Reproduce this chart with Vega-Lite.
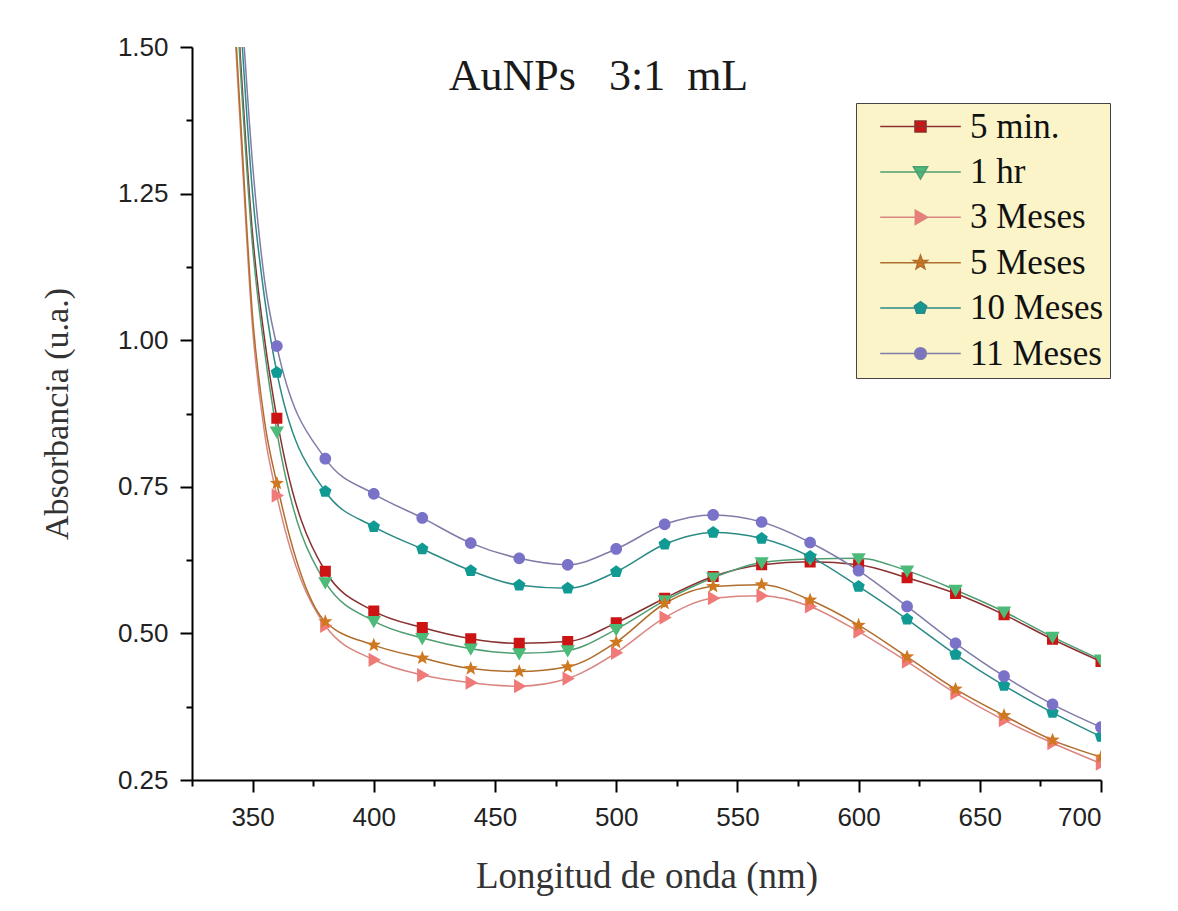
{
  "$schema": "https://vega.github.io/schema/vega-lite/v6.json",
  "width": 909,
  "height": 733,
  "autosize": {"type": "none"},
  "padding": {"left": 192, "top": 47, "right": 77, "bottom": 131},
  "background": "white",
  "title": {
    "text": "AuNPs\u00a0\u00a0 3:1\u00a0 mL",
    "orient": "top",
    "anchor": "middle",
    "frame": "group",
    "baseline": "alphabetic",
    "offset": -100,
    "dx": -48,
    "font": "Liberation Serif",
    "fontSize": 44,
    "fontWeight": "normal",
    "color": "#1a1a1a"
  },
  "data": {
    "values": [
      {"s": "5 min.", "w": 340, "a": 1.85}, {"s": "5 min.", "w": 345, "a": 1.48}, {"s": "5 min.", "w": 350, "a": 1.18}, {"s": "5 min.", "w": 355, "a": 1.0},
      {"s": "5 min.", "w": 360, "a": 0.867}, {"s": "5 min.", "w": 380, "a": 0.606}, {"s": "5 min.", "w": 400, "a": 0.538}, {"s": "5 min.", "w": 420, "a": 0.51},
      {"s": "5 min.", "w": 440, "a": 0.491}, {"s": "5 min.", "w": 460, "a": 0.483}, {"s": "5 min.", "w": 480, "a": 0.486}, {"s": "5 min.", "w": 500, "a": 0.518},
      {"s": "5 min.", "w": 520, "a": 0.56}, {"s": "5 min.", "w": 540, "a": 0.597}, {"s": "5 min.", "w": 560, "a": 0.617}, {"s": "5 min.", "w": 580, "a": 0.622},
      {"s": "5 min.", "w": 600, "a": 0.617}, {"s": "5 min.", "w": 620, "a": 0.595}, {"s": "5 min.", "w": 640, "a": 0.568}, {"s": "5 min.", "w": 660, "a": 0.532},
      {"s": "5 min.", "w": 680, "a": 0.49}, {"s": "5 min.", "w": 700, "a": 0.452},

      {"s": "1 hr", "w": 340, "a": 1.83}, {"s": "1 hr", "w": 345, "a": 1.46}, {"s": "1 hr", "w": 350, "a": 1.16}, {"s": "1 hr", "w": 355, "a": 0.98},
      {"s": "1 hr", "w": 360, "a": 0.844}, {"s": "1 hr", "w": 380, "a": 0.587}, {"s": "1 hr", "w": 400, "a": 0.521}, {"s": "1 hr", "w": 420, "a": 0.492},
      {"s": "1 hr", "w": 440, "a": 0.474}, {"s": "1 hr", "w": 460, "a": 0.466}, {"s": "1 hr", "w": 480, "a": 0.471}, {"s": "1 hr", "w": 500, "a": 0.507},
      {"s": "1 hr", "w": 520, "a": 0.556}, {"s": "1 hr", "w": 540, "a": 0.595}, {"s": "1 hr", "w": 560, "a": 0.621}, {"s": "1 hr", "w": 580, "a": 0.627},
      {"s": "1 hr", "w": 600, "a": 0.628}, {"s": "1 hr", "w": 620, "a": 0.607}, {"s": "1 hr", "w": 640, "a": 0.574}, {"s": "1 hr", "w": 660, "a": 0.537},
      {"s": "1 hr", "w": 680, "a": 0.494}, {"s": "1 hr", "w": 700, "a": 0.455},

      {"s": "3 Meses", "w": 340, "a": 1.72}, {"s": "3 Meses", "w": 345, "a": 1.36}, {"s": "3 Meses", "w": 350, "a": 1.02}, {"s": "3 Meses", "w": 355, "a": 0.84},
      {"s": "3 Meses", "w": 360, "a": 0.735}, {"s": "3 Meses", "w": 380, "a": 0.513}, {"s": "3 Meses", "w": 400, "a": 0.455}, {"s": "3 Meses", "w": 420, "a": 0.429},
      {"s": "3 Meses", "w": 440, "a": 0.416}, {"s": "3 Meses", "w": 460, "a": 0.41}, {"s": "3 Meses", "w": 480, "a": 0.423}, {"s": "3 Meses", "w": 500, "a": 0.467},
      {"s": "3 Meses", "w": 520, "a": 0.527}, {"s": "3 Meses", "w": 540, "a": 0.56}, {"s": "3 Meses", "w": 560, "a": 0.564}, {"s": "3 Meses", "w": 580, "a": 0.546},
      {"s": "3 Meses", "w": 600, "a": 0.503}, {"s": "3 Meses", "w": 620, "a": 0.452}, {"s": "3 Meses", "w": 640, "a": 0.398}, {"s": "3 Meses", "w": 660, "a": 0.352},
      {"s": "3 Meses", "w": 680, "a": 0.313}, {"s": "3 Meses", "w": 700, "a": 0.278},

      {"s": "5 Meses", "w": 340, "a": 1.74}, {"s": "5 Meses", "w": 345, "a": 1.38}, {"s": "5 Meses", "w": 350, "a": 1.04}, {"s": "5 Meses", "w": 355, "a": 0.86},
      {"s": "5 Meses", "w": 360, "a": 0.756}, {"s": "5 Meses", "w": 380, "a": 0.52}, {"s": "5 Meses", "w": 400, "a": 0.48}, {"s": "5 Meses", "w": 420, "a": 0.458},
      {"s": "5 Meses", "w": 440, "a": 0.44}, {"s": "5 Meses", "w": 460, "a": 0.435}, {"s": "5 Meses", "w": 480, "a": 0.443}, {"s": "5 Meses", "w": 500, "a": 0.485},
      {"s": "5 Meses", "w": 520, "a": 0.551}, {"s": "5 Meses", "w": 540, "a": 0.58}, {"s": "5 Meses", "w": 560, "a": 0.583}, {"s": "5 Meses", "w": 580, "a": 0.557},
      {"s": "5 Meses", "w": 600, "a": 0.514}, {"s": "5 Meses", "w": 620, "a": 0.46}, {"s": "5 Meses", "w": 640, "a": 0.405}, {"s": "5 Meses", "w": 660, "a": 0.36},
      {"s": "5 Meses", "w": 680, "a": 0.318}, {"s": "5 Meses", "w": 700, "a": 0.289},

      {"s": "10 Meses", "w": 340, "a": 1.9}, {"s": "10 Meses", "w": 345, "a": 1.55}, {"s": "10 Meses", "w": 350, "a": 1.25}, {"s": "10 Meses", "w": 355, "a": 1.07},
      {"s": "10 Meses", "w": 360, "a": 0.945}, {"s": "10 Meses", "w": 380, "a": 0.742}, {"s": "10 Meses", "w": 400, "a": 0.682}, {"s": "10 Meses", "w": 420, "a": 0.644},
      {"s": "10 Meses", "w": 440, "a": 0.607}, {"s": "10 Meses", "w": 460, "a": 0.582}, {"s": "10 Meses", "w": 480, "a": 0.577}, {"s": "10 Meses", "w": 500, "a": 0.605},
      {"s": "10 Meses", "w": 520, "a": 0.652}, {"s": "10 Meses", "w": 540, "a": 0.672}, {"s": "10 Meses", "w": 560, "a": 0.662}, {"s": "10 Meses", "w": 580, "a": 0.631},
      {"s": "10 Meses", "w": 600, "a": 0.58}, {"s": "10 Meses", "w": 620, "a": 0.524}, {"s": "10 Meses", "w": 640, "a": 0.464}, {"s": "10 Meses", "w": 660, "a": 0.411},
      {"s": "10 Meses", "w": 680, "a": 0.365}, {"s": "10 Meses", "w": 700, "a": 0.324},

      {"s": "11 Meses", "w": 340, "a": 1.95}, {"s": "11 Meses", "w": 345, "a": 1.6}, {"s": "11 Meses", "w": 350, "a": 1.3}, {"s": "11 Meses", "w": 355, "a": 1.1},
      {"s": "11 Meses", "w": 360, "a": 0.99}, {"s": "11 Meses", "w": 380, "a": 0.798}, {"s": "11 Meses", "w": 400, "a": 0.738}, {"s": "11 Meses", "w": 420, "a": 0.697},
      {"s": "11 Meses", "w": 440, "a": 0.654}, {"s": "11 Meses", "w": 460, "a": 0.628}, {"s": "11 Meses", "w": 480, "a": 0.617}, {"s": "11 Meses", "w": 500, "a": 0.644},
      {"s": "11 Meses", "w": 520, "a": 0.686}, {"s": "11 Meses", "w": 540, "a": 0.702}, {"s": "11 Meses", "w": 560, "a": 0.69}, {"s": "11 Meses", "w": 580, "a": 0.655},
      {"s": "11 Meses", "w": 600, "a": 0.607}, {"s": "11 Meses", "w": 620, "a": 0.546}, {"s": "11 Meses", "w": 640, "a": 0.483}, {"s": "11 Meses", "w": 660, "a": 0.427},
      {"s": "11 Meses", "w": 680, "a": 0.379}, {"s": "11 Meses", "w": 700, "a": 0.34}
    ]
  },
  "encoding": {
    "x": {
      "field": "w",
      "type": "quantitative",
      "scale": {"domain": [325, 700], "nice": false, "zero": false},
      "axis": {
        "title": "Longitud de onda (nm)",
        "values": [325, 350, 375, 400, 425, 450, 475, 500, 525, 550, 575, 600, 625, 650, 675, 700],
        "labelExpr": "datum.value % 50 === 0 ? datum.label : ''",
        "tickSize": {"condition": {"test": "datum.value % 50 === 0", "value": 12}, "value": 6},
        "labelPadding": 12,
        "titlePadding": 28,
        "titleFontSize": 37
      }
    },
    "y": {
      "field": "a",
      "type": "quantitative",
      "scale": {"domain": [0.25, 1.5], "nice": false, "zero": false},
      "axis": {
        "title": "Absorbancia (u.a.)",
        "values": [0.25, 0.375, 0.5, 0.625, 0.75, 0.875, 1.0, 1.125, 1.25, 1.375, 1.5],
        "format": ".2f",
        "labelExpr": "round(datum.value * 1000) % 250 === 0 ? datum.label : ''",
        "tickSize": {"condition": {"test": "round(datum.value * 1000) % 250 === 0", "value": 12}, "value": 6},
        "labelPadding": 12,
        "titlePadding": 43,
        "titleFontSize": 34
      }
    }
  },
  "layer": [
    {
      "mark": {"type": "line", "interpolate": "monotone", "strokeWidth": 1.5, "clip": true},
      "encoding": {
        "stroke": {
          "field": "s",
          "type": "nominal",
          "title": null,
          "scale": {
            "domain": ["5 min.", "1 hr", "3 Meses", "5 Meses", "10 Meses", "11 Meses"],
            "range": ["#8a3030", "#4f9e72", "#d98680", "#b06e2c", "#2b8a86", "#7f7da8"]
          }
        }
      }
    },
    {
      "transform": [{"filter": "datum.w >= 360"}],
      "mark": {"type": "point", "filled": true, "size": 169, "opacity": 1, "clip": true},
      "encoding": {
        "fill": {
          "field": "s",
          "type": "nominal",
          "title": null,
          "scale": {
            "domain": ["5 min.", "1 hr", "3 Meses", "5 Meses", "10 Meses", "11 Meses"],
            "range": ["#cc1414", "#4cbb7a", "#f07a78", "#d0781f", "#119a94", "#7a72c8"]
          }
        },
        "shape": {
          "field": "s",
          "type": "nominal",
          "title": null,
          "scale": {
            "domain": ["5 min.", "1 hr", "3 Meses", "5 Meses", "10 Meses", "11 Meses"],
            "range": [
              "M-6.2,0H6.2M-0.85,-0.85H0.85V0.85H-0.85Z",
              "M-6.2,0H6.2M-1.1,-0.8H1.1L0,1.1Z",
              "M-6.2,0H6.2M-0.8,-1.1L1.1,0L-0.8,1.1Z",
              "M-6.2,0H6.2M0,-1.15L0.282,-0.388L1.094,-0.355L0.456,0.148L0.676,0.93L0,0.48L-0.676,0.93L-0.456,0.148L-1.094,-0.355L-0.282,-0.388Z",
              "M-6.2,0H6.2M0,-1L0.951,-0.309L0.588,0.809L-0.588,0.809L-0.951,-0.309Z",
              "M-6.2,0H6.2M0.9,0A0.9,0.9,0,1,1,-0.9,0A0.9,0.9,0,1,1,0.9,0Z"
            ]
          }
        }
      }
    }
  ],
  "config": {
    "view": {"stroke": null},
    "axis": {
      "grid": false,
      "domainColor": "#000000",
      "domainWidth": 2,
      "tickColor": "#000000",
      "tickWidth": 2,
      "labelFont": "Liberation Sans",
      "labelFontSize": 26,
      "labelColor": "#222222",
      "titleFont": "Liberation Serif",
      "titleFontWeight": "normal",
      "titleColor": "#333333"
    },
    "legend": {
      "orient": "none",
      "legendX": 664,
      "legendY": 56,
      "fillColor": "#fbf4c9",
      "strokeColor": "#444444",
      "padding": 6,
      "symbolSize": 169,
      "symbolOffset": 41,
      "labelOffset": 32,
      "labelFont": "Liberation Serif",
      "labelFontSize": 35,
      "labelColor": "#111111",
      "labelLimit": 300,
      "rowPadding": 9.4,
      "symbolStrokeWidth": 1.5
    }
  }
}
